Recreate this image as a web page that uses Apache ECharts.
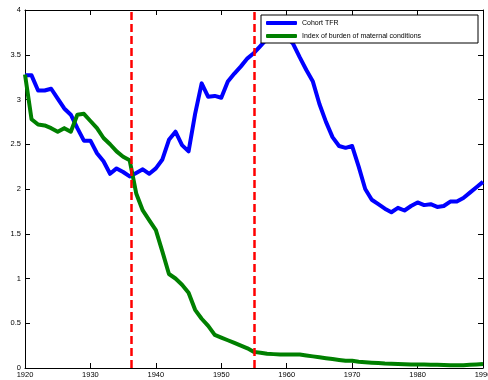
<!DOCTYPE html>
<html><head><meta charset="utf-8">
<script src="https://cdn.jsdelivr.net/npm/echarts@6/dist/echarts.min.js"></script>
<style>html,body{margin:0;padding:0;background:#fff}#c{width:488px;height:380px}</style>
</head><body><div id="c"></div>
<script>
const years = [1920,1921,1922,1923,1924,1925,1926,1927,1928,1929,
  1930,1931,1932,1933,1934,1935,1936,1937,1938,1939,
  1940,1941,1942,1943,1944,1945,1946,1947,1948,1949,
  1950,1951,1952,1953,1954,1955,1956,1957,1958,1959,
  1960,1961,1962,1963,1964,1965,1966,1967,1968,1969,
  1970,1971,1972,1973,1974,1975,1976,1977,1978,1979,
  1980,1981,1982,1983,1984,1985,1986,1987,1988,1989,1990];
const cohortTFR = [3.27,3.27,3.10,3.10,3.12,3.01,2.90,2.83,2.68,2.54,
  2.54,2.40,2.31,2.17,2.23,2.19,2.14,2.18,2.22,2.17,
  2.23,2.33,2.55,2.64,2.49,2.42,2.84,3.18,3.03,3.04,
  3.02,3.20,3.29,3.37,3.46,3.52,3.60,3.68,3.72,3.70,
  3.70,3.62,3.47,3.33,3.20,2.95,2.75,2.58,2.48,2.46,
  2.48,2.25,2.00,1.88,1.83,1.78,1.74,1.79,1.76,1.81,
  1.85,1.82,1.83,1.80,1.81,1.86,1.86,1.90,1.96,2.02,2.08];
const burdenIndex = [3.28,2.78,2.72,2.71,2.68,2.64,2.68,2.64,2.83,2.84,
  2.76,2.68,2.57,2.50,2.42,2.36,2.32,1.95,1.76,1.65,
  1.54,1.30,1.05,1.00,0.93,0.84,0.65,0.55,0.47,0.37,
  0.34,0.31,0.28,0.25,0.22,0.18,0.17,0.16,0.155,0.15,
  0.15,0.15,0.15,0.14,0.13,0.12,0.11,0.10,0.09,0.08,
  0.08,0.07,0.065,0.06,0.055,0.05,0.048,0.045,0.043,0.04,
  0.04,0.038,0.036,0.035,0.033,0.032,0.03,0.03,0.035,0.04,0.045];
const breakYears = [1936.2, 1955];
const seriesNames = ['Cohort TFR', 'Index of burden of maternal conditions'];

const FONT = '"Liberation Sans Narrow", "Liberation Sans", Arial, sans-serif';
const pair = (xs, ys) => xs.map((x, i) => [x, ys[i]]);

const chart = echarts.init(document.getElementById('c'), null, {renderer: 'canvas'});
const axisBase = {
  type: 'value',
  axisLine: {show: true, onZero: false, lineStyle: {color: '#000', width: 1}},
  axisTick: {show: true, inside: true, length: 5, lineStyle: {color: '#000'}},
  splitLine: {show: false}
};
chart.setOption({
  animation: false,
  backgroundColor: '#fff',
  grid: {left: 25, right: 5, top: 10, bottom: 12, containLabel: false, outerBoundsMode: 'none'},
  xAxis: [
    Object.assign({}, axisBase, {min: 1920, max: 1990, interval: 10, position: 'bottom',
      axisLabel: {color: '#000', fontSize: 7.5, fontFamily: FONT, margin: 3,
        formatter: v => String(v)}}),
    Object.assign({}, axisBase, {min: 1920, max: 1990, interval: 10, position: 'top',
      axisLabel: {show: false}})
  ],
  yAxis: [
    Object.assign({}, axisBase, {min: 0, max: 4, interval: 0.5, position: 'left',
      axisLabel: {color: '#000', fontSize: 7.5, fontFamily: FONT, margin: 4,
        formatter: v => String(v)}}),
    Object.assign({}, axisBase, {min: 0, max: 4, interval: 0.5, position: 'right',
      axisLabel: {show: false}})
  ],
  legend: {
    z: 101,
    orient: 'vertical',
    left: 266, top: 18,
    padding: 0,
    itemGap: 3,
    itemWidth: 31, itemHeight: 4,
    icon: 'roundRect',
    data: seriesNames,
    textStyle: {fontSize: 7, fontFamily: FONT, color: '#000', lineHeight: 10}
  },
  graphic: [{
    type: 'rect', z: 100,
    shape: {x: 261, y: 15, width: 217, height: 28},
    style: {fill: '#fff', stroke: '#000', lineWidth: 1}
  }],
  series: [
    {name: seriesNames[0], type: 'line', showSymbol: false, data: pair(years, cohortTFR),
      color: '#0000ff', lineStyle: {width: 4, color: '#0000ff', join: 'round'}},
    {name: seriesNames[1], type: 'line', showSymbol: false, data: pair(years, burdenIndex),
      color: '#008000', lineStyle: {width: 4, color: '#008000', join: 'round'}},
    {name: 'breaks', type: 'line', data: [], silent: true,
      markLine: {silent: true, symbol: ['none', 'none'], label: {show: false},
        lineStyle: {color: '#ff0000', width: 2.5, type: [8, 4]},
        data: breakYears.map(v => ({xAxis: v}))}}
  ]
});
</script></body></html>
